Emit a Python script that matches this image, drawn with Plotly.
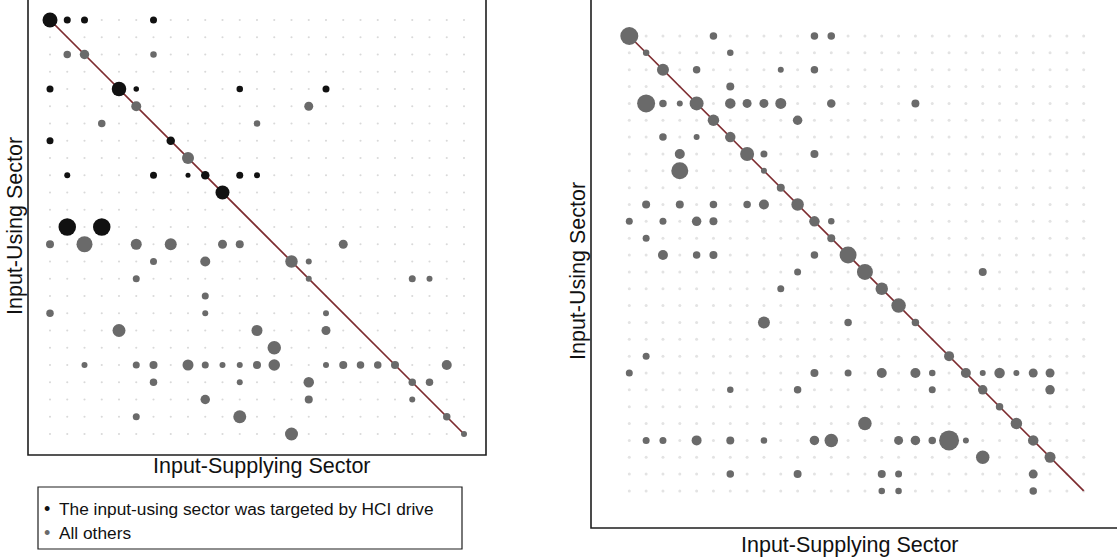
import plotly.graph_objects as go

W, H = 1117, 560

# ---------------- Data ----------------
# Left panel: 25 sectors; rows = input-using sector, cols = input-supplying sector
left_sectors = list(range(25))
left_targeted_rows = [0, 4, 7, 9, 10, 12]
left_rows = [0, 0, 0, 0,
             2, 2, 2,
             4, 4, 4, 4, 4,
             5, 5,
             6, 6,
             7, 7,
             8,
             9, 9, 9, 9, 9, 9,
             10,
             12, 12,
             13, 13, 13, 13, 13, 13, 13,
             14, 14, 14, 14,
             15, 15, 15, 15,
             16,
             17, 17, 17,
             18, 18, 18,
             19,
             20, 20, 20, 20, 20, 20, 20, 20, 20, 20, 20, 20, 20, 20, 20,
             21, 21, 21, 21, 21,
             22, 22, 22,
             23, 23, 23,
             24, 24]
left_cols = [0, 1, 2, 6,
             1, 2, 6,
             0, 4, 5, 11, 16,
             5, 15,
             3, 12,
             0, 7,
             8,
             1, 6, 8, 9, 11, 12,
             10,
             1, 3,
             0, 2, 5, 7, 10, 11, 17,
             6, 9, 14, 15,
             5, 15, 21, 22,
             9,
             0, 9, 16,
             4, 12, 16,
             13,
             2, 5, 6, 8, 9, 10, 11, 12, 13, 16, 17, 18, 19, 20, 23,
             6, 11, 15, 21, 22,
             9, 15, 21,
             5, 11, 23,
             14, 24]
left_sizes = [15, 7, 7, 7,
              7.5, 9.5, 6.5,
              7, 14.5, 5.5, 6.5, 7,
              10, 9,
              7.5, 6.5,
              7, 8.5,
              12,
              6, 7, 5, 8.5, 7, 6,
              14,
              17.5, 17.5,
              8, 16, 11, 12, 9, 8, 9,
              7, 10, 12.5, 6,
              7, 6, 7, 6,
              7,
              7.5, 6, 6,
              13, 11, 9,
              13.5,
              6, 7, 8, 11, 7, 6, 6, 8, 11.5, 6, 8, 7.5, 7.5, 8, 10,
              7.5, 6, 10.5, 7.5, 7.5,
              9.5, 8, 6,
              7, 13, 7.5,
              13, 6]

# Right panel: 28 sectors
right_sectors = list(range(28))
right_rows = [0, 0, 0, 0,
              1, 1,
              2, 2, 2, 2,
              3,
              4, 4, 4, 4, 4, 4, 4, 4, 4, 4,
              5, 5,
              6, 6, 6,
              7, 7, 7, 7,
              8, 8,
              9,
              10, 10, 10, 10, 10, 10,
              11, 11, 11, 11, 11, 11,
              12, 12,
              13, 13, 13, 13, 13,
              14, 14, 14,
              15, 15,
              16,
              17, 17, 17,
              19, 19,
              20, 20, 20, 20, 20, 20, 20, 20, 20, 20, 20, 20,
              21, 21, 21, 21, 21,
              22,
              23, 23,
              24, 24, 24, 24, 24, 24, 24, 24, 24, 24, 24, 24, 24,
              25, 25,
              26, 26, 26, 26, 26,
              27, 27, 27]
right_cols = [0, 5, 11, 12,
              1, 6,
              2, 4, 9, 11,
              6,
              1, 2, 3, 4, 6, 7, 8, 9, 12, 17,
              5, 10,
              2, 4, 6,
              3, 7, 8, 11,
              3, 8,
              9,
              1, 3, 5, 7, 8, 10,
              0, 2, 4, 5, 11, 12,
              1, 12,
              2, 4, 5, 11, 13,
              10, 14, 21,
              9, 15,
              16,
              8, 13, 17,
              1, 19,
              0, 11, 13, 15, 17, 18, 20, 21, 22, 23, 24, 25,
              6, 10, 18, 21, 25,
              22,
              14, 23,
              1, 2, 4, 6, 8, 11, 12, 16, 17, 18, 19, 20, 24,
              21, 25,
              6, 10, 15, 16, 24,
              15, 16, 24]
right_sizes = [18, 7.5, 7.5, 7.5,
               6.5, 6.5,
               12, 7.5, 6, 7.5,
               8,
               18, 7.5, 6, 14, 10.5, 9, 9, 11, 8.5, 8,
               11.5, 9.5,
               7.5, 6, 10.5,
               10, 14, 7, 8,
               17, 6,
               8,
               8, 8, 7.5, 7.5, 10, 12.5,
               7, 7, 9.5, 8, 10.5, 6.5,
               7, 8,
               10, 7.5, 8, 7.5, 17,
               7, 16, 8,
               7, 12.5,
               14.5,
               12, 7.5, 7.5,
               7, 10,
               7, 8, 7, 10, 10, 6.5, 10, 6, 10.5, 6, 9, 9,
               6.5, 7.5, 7, 9.5, 9.5,
               7.5,
               13.5, 11.5,
               7, 7, 10, 8, 6.5, 9.5, 13.5, 9, 9.5, 7.5, 20, 6, 10.5,
               13.5, 11,
               7.5, 8, 8, 7, 9,
               6.5, 6.5, 7.5]

legend_labels = ["The input-using sector was targeted by HCI drive", "All others"]
axis_x_title = "Input-Supplying Sector"
axis_y_title = "Input-Using Sector"

# ---------------- Styles ----------------
BLACK = "#111111"
GRAY = "#6a6a6a"
LINE = "#7d2b2f"
FONT = "Liberation Sans, Arial, Helvetica, sans-serif"


def px_x(p):
    return p / W


def px_y(p):
    return 1 - p / H


fig = go.Figure()

# background grid of tiny dots (all sector pairs)
gx = [c for r in left_sectors for c in left_sectors]
gy = [r for r in left_sectors for c in left_sectors]
fig.add_trace(go.Scatter(x=gx, y=gy, mode="markers", xaxis="x", yaxis="y",
                         marker=dict(size=2.1, color="#d9d9d9", opacity=1), hoverinfo="skip",
                         showlegend=False))
gx2 = [c for r in right_sectors for c in right_sectors]
gy2 = [r for r in right_sectors for c in right_sectors]
fig.add_trace(go.Scatter(x=gx2, y=gy2, mode="markers", xaxis="x2", yaxis="y2",
                         marker=dict(size=3, color="#e3e3e3", opacity=1), hoverinfo="skip",
                         showlegend=False))

# diagonal lines
fig.add_trace(go.Scatter(x=[left_sectors[0], left_sectors[-1]], y=[left_sectors[0], left_sectors[-1]],
                         mode="lines", xaxis="x", yaxis="y", line=dict(color=LINE, width=1.7),
                         hoverinfo="skip", showlegend=False))
fig.add_trace(go.Scatter(x=[right_sectors[0], right_sectors[-1]], y=[right_sectors[0], right_sectors[-1]],
                         mode="lines", xaxis="x2", yaxis="y2", line=dict(color=LINE, width=1.7),
                         hoverinfo="skip", showlegend=False))

# left panel bubbles
left_colors = [BLACK if r in left_targeted_rows else GRAY for r in left_rows]
fig.add_trace(go.Scatter(x=left_cols, y=left_rows, mode="markers", xaxis="x", yaxis="y",
                         marker=dict(size=left_sizes, color=left_colors, opacity=1, line=dict(width=0)),
                         showlegend=False))
# right panel bubbles
fig.add_trace(go.Scatter(x=right_cols, y=right_rows, mode="markers", xaxis="x2", yaxis="y2",
                         marker=dict(size=right_sizes, color=GRAY, opacity=1, line=dict(width=0)),
                         showlegend=False))

# ---------------- Axes ----------------
ax_common = dict(showgrid=False, zeroline=False, showticklabels=False, ticks="",
                 showline=False, fixedrange=True)
fig.update_layout(
    xaxis=dict(domain=[px_x(28), px_x(486)], range=[(28 - 50) / 17.25, (486 - 50) / 17.25],
               anchor="y", **ax_common),
    yaxis=dict(domain=[px_y(455), 1], range=[(455 - 20) / 17.25, (0 - 20) / 17.25],
               anchor="x", **ax_common),
    xaxis2=dict(domain=[px_x(591), 1], range=[(591 - 629.3) / 16.83, (1117 - 629.3) / 16.83],
                anchor="y2", **ax_common),
    yaxis2=dict(domain=[px_y(528), 1], range=[(528 - 36) / 16.85, (0 - 36) / 16.85],
                anchor="x2", **ax_common),
)

# ---------------- Frames & legend box ----------------
shapes = [
    dict(type="rect", xref="paper", yref="paper", x0=px_x(28), x1=px_x(486), y0=px_y(455), y1=px_y(-3),
         line=dict(color="#1e1e1e", width=1.6), fillcolor="rgba(0,0,0,0)", layer="above"),
    dict(type="rect", xref="paper", yref="paper", x0=px_x(591), x1=px_x(1130), y0=px_y(528), y1=px_y(-3),
         line=dict(color="#1e1e1e", width=1.6), fillcolor="rgba(0,0,0,0)", layer="above"),
    dict(type="rect", xref="paper", yref="paper", x0=px_x(38), x1=px_x(462), y0=px_y(549), y1=px_y(487),
         line=dict(color="#1e1e1e", width=1.2), fillcolor="rgba(0,0,0,0)"),
]

TF = dict(family=FONT, size=21.5, color="#111111")
LF = dict(family=FONT, size=17.3, color="#111111")
annotations = [
    dict(text=axis_y_title, x=px_x(15), y=px_y(226), textangle=-90, font=TF),
    dict(text=axis_x_title, x=px_x(262), y=px_y(466), font=TF),
    dict(text=axis_y_title, x=px_x(578), y=px_y(271), textangle=-90, font=TF),
    dict(text=axis_x_title, x=px_x(850), y=px_y(545), font=TF),
    dict(text="•", x=px_x(47), y=px_y(509), font=dict(family=FONT, size=18, color=BLACK)),
    dict(text="•", x=px_x(47), y=px_y(533), font=dict(family=FONT, size=18, color=GRAY)),
    dict(text=legend_labels[0], x=px_x(57), y=px_y(509), xanchor="left", font=LF),
    dict(text=legend_labels[1], x=px_x(57), y=px_y(533), xanchor="left", font=LF),
]
for a in annotations:
    a.update(xref="paper", yref="paper", showarrow=False)
    a.setdefault("xanchor", "center")
    a.setdefault("yanchor", "middle")

fig.update_layout(
    width=W, height=H, margin=dict(l=0, r=0, t=0, b=0),
    paper_bgcolor="white", plot_bgcolor="white",
    shapes=shapes, annotations=annotations, showlegend=False,
    font=dict(family=FONT),
)

fig.write_html("out.html", config={"displayModeBar": False},
               post_script="document.body.style.margin='0px';document.body.style.overflow='hidden';")
